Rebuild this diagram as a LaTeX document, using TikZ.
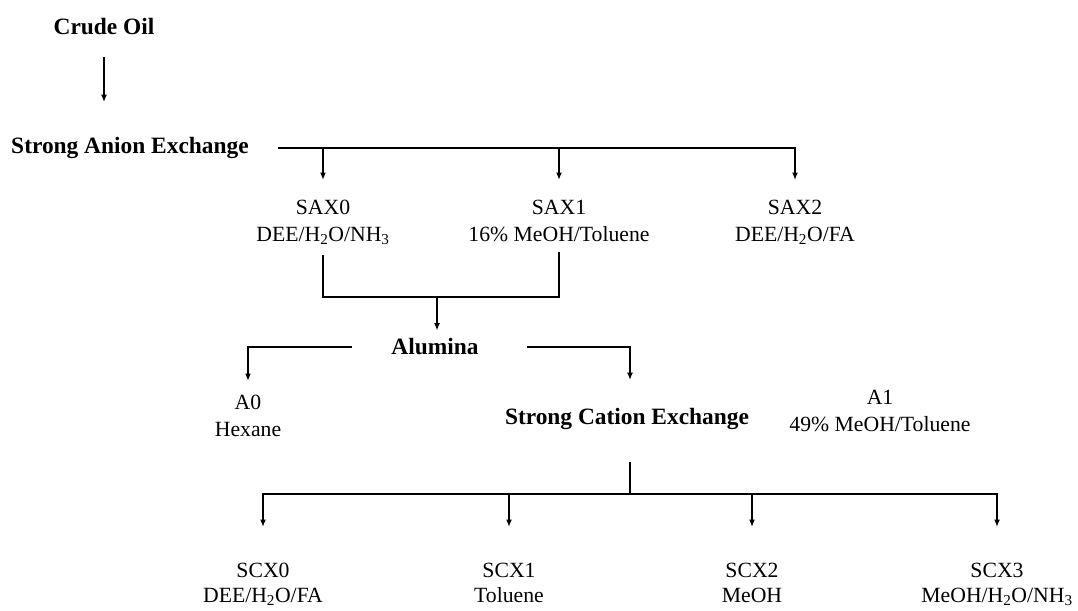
\documentclass[tikz,border=0pt]{standalone}
\usepackage{fontspec}
\setmainfont{Liberation Serif}
\usetikzlibrary{arrows.meta}

\tikzset{
    lbl/.style={font=\fontsize{21.7}{27}\selectfont, align=center, inner sep=0pt},
    hd/.style={font=\fontsize{23.4}{28}\selectfont\bfseries, inner sep=0pt},
    ln/.style={line width=1.6pt},
    arr/.style={ln, -{Latex[length=7.5pt,width=6pt]}},
}

\begin{document}
\begin{tikzpicture}[x=1pt, y=-1pt]
    % Page frame: 1078 x 610
    \useasboundingbox (0,0) rectangle (1078,610);

    % Stages and fractions
    \node[hd] (crude) at (104,27) {Crude Oil};
    \node[hd] (sae) at (130,148) {Strong Anion Exchange};
    \node[lbl, anchor=north] (sax0) at (323,200) {SAX0\\DEE/H\textsubscript{2}O/NH\textsubscript{3}};
    \node[lbl, anchor=north] (sax1) at (559,200) {SAX1\\16\% MeOH/Toluene};
    \node[lbl, anchor=north] (sax2) at (795,200) {SAX2\\DEE/H\textsubscript{2}O/FA};
    \node[hd] (alu) at (435,347) {Alumina};
    \node[lbl, anchor=north] (a0) at (248,395) {A0\\Hexane};
    \node[hd] (sce) at (627,419) {Strong Cation Exchange};
    \node[lbl, anchor=north] (a1) at (880,390) {A1\\49\% MeOH/Toluene};
    \node[lbl, anchor=north, font=\fontsize{21.7}{24.5}\selectfont] (scx0) at (263,563) {SCX0\\DEE/H\textsubscript{2}O/FA};
    \node[lbl, anchor=north, font=\fontsize{21.7}{24.5}\selectfont] (scx1) at (509,563) {SCX1\\Toluene};
    \node[lbl, anchor=north, font=\fontsize{21.7}{24.5}\selectfont] (scx2) at (752,563) {SCX2\\MeOH};
    \node[lbl, anchor=north, font=\fontsize{21.7}{24.5}\selectfont] (scx3) at (997,563) {SCX3\\MeOH/H\textsubscript{2}O/NH\textsubscript{3}};

    % Junctions
    \coordinate (brk) at (437,297);
    \coordinate (scxbar) at (630,494);

    % Crude oil to SAX
    \draw[arr, shorten <=22pt, shorten >=35pt] (crude.south) -- (crude.south |- sae.north);

    % SAX splits
    \foreach \n in {sax0,sax1,sax2} {
        \draw[arr, shorten <=29pt, shorten >=20pt] (sae.east) -| (\n.north);
    }

    % SAX0 + SAX1 to alumina
    \draw[ln, shorten <=10pt, shorten >=10pt] (sax0.south) |- (brk) -| (sax1.south);
    \draw[arr, shorten >=8pt] (brk) -- (brk |- alu.north);

    % Alumina splits
    \draw[arr, shorten <=39pt, shorten >=14pt] (alu.west) -| (a0.north);
    \draw[arr, shorten <=48pt, shorten >=28pt] (alu.east) -| ([xshift=3pt]sce.north);

    % SCX splits
    \draw[ln, shorten <=32pt] ([xshift=3pt]sce.south) -- (scxbar);
    \foreach \n in {scx0,scx1,scx2,scx3} {
        \draw[arr, shorten >=36pt] (scxbar) -| (\n.north);
    }
\end{tikzpicture}
\end{document}
